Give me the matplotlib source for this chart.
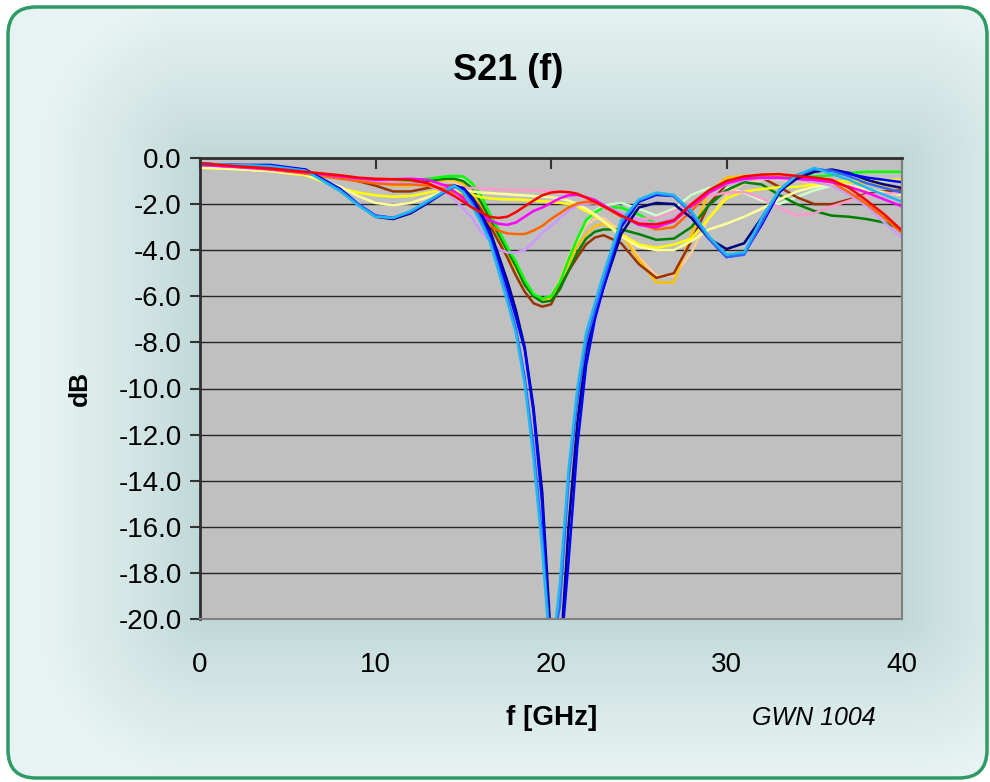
import numpy as np
import matplotlib
matplotlib.use("Agg")
import matplotlib.pyplot as plt
from matplotlib.patches import FancyBboxPatch

plt.rcParams["font.family"] = ["Liberation Sans", "DejaVu Sans"]

# frequency grid [GHz]
freq = [0, 2, 4, 6, 8, 9, 10, 11, 12, 13, 14,
        14.5, 15, 15.5, 16, 16.5, 17, 17.5, 18, 18.5, 19, 19.5, 20, 20.5, 21, 21.5, 22, 22.5, 23,
        24, 25, 26, 27, 28, 29, 30, 31, 32, 33, 34, 35, 36, 37, 38, 39, 40]

# S21 [dB] per sample
s_pale_green = [-0.28, -0.38, -0.48, -0.62, -0.82, -0.92, -0.98, -1.0, -1.0, -0.95, -0.9,
                -0.9, -0.95, -1.25, -1.8, -2.5, -3.2, -3.9, -4.6, -5.35, -5.95, -6.25, -6.25, -5.6, -4.6, -3.6, -2.8, -2.3, -2.05,
                -1.95, -2.2, -2.5, -2.2, -1.6, -1.3, -1.3, -1.5, -1.85, -2.0, -1.7, -1.4, -1.2, -1.1, -1.0, -1.0, -1.0]
s_peach = [-0.28, -0.38, -0.48, -0.65, -0.85, -0.95, -1.05, -1.1, -1.1, -1.05, -1.0,
           -1.05, -1.2, -1.5, -2.0, -2.7, -3.4, -4.1, -4.8, -5.4, -5.9, -6.1, -6.0, -5.3, -4.3, -3.5, -2.9, -2.65, -2.6,
           -3.2, -4.3, -5.1, -5.1, -4.1, -2.6, -1.6, -1.1, -0.95, -0.95, -1.0, -1.1, -1.2, -1.3, -1.4, -1.5, -1.5]
s_gold = [-0.3, -0.4, -0.5, -0.65, -0.85, -0.95, -1.05, -1.2, -1.2, -1.05, -0.95,
          -0.95, -1.1, -1.5, -2.0, -2.7, -3.4, -4.1, -4.8, -5.5, -6.0, -6.2, -6.05, -5.4, -4.6, -3.8, -3.3, -2.95, -2.85,
          -3.3, -4.4, -5.4, -5.4, -3.3, -1.5, -0.85, -0.78, -0.78, -0.8, -0.85, -0.95, -1.0, -1.05, -1.1, -1.2, -1.3]
s_brown = [-0.25, -0.35, -0.45, -0.6, -0.85, -1.0, -1.2, -1.45, -1.45, -1.3, -1.2,
           -1.2, -1.35, -1.7, -2.2, -2.9, -3.6, -4.3, -5.1, -5.8, -6.3, -6.45, -6.35, -5.6, -4.9, -4.3, -3.75, -3.45, -3.35,
           -3.7, -4.6, -5.2, -5.0, -3.6, -2.0, -1.15, -0.85, -0.85, -1.25, -1.7, -2.0, -2.0, -1.8, -1.55, -1.45, -1.4]
s_dark_green = [-0.25, -0.35, -0.45, -0.62, -0.85, -0.95, -1.0, -1.1, -1.1, -1.0, -0.9,
                -0.9, -1.0, -1.3, -1.9, -2.6, -3.3, -4.0, -4.7, -5.5, -6.0, -6.25, -6.2, -5.7, -4.9, -4.1, -3.5, -3.2, -3.1,
                -3.1, -3.3, -3.55, -3.5, -3.0, -2.05, -1.4, -1.05, -1.15, -1.6, -2.0, -2.3, -2.5, -2.55, -2.65, -2.8, -3.1]
s_lime = [-0.25, -0.35, -0.45, -0.6, -0.8, -0.9, -0.95, -1.0, -1.0, -0.9, -0.8,
          -0.78, -0.8, -1.1, -1.6, -2.4, -3.1, -3.85, -4.5, -5.3, -5.9, -6.1, -6.0, -5.4, -4.4, -3.5, -2.7, -2.35, -2.15,
          -2.15, -2.45, -2.85, -2.65, -2.05, -1.4, -1.0, -0.82, -0.8, -0.85, -0.8, -0.8, -0.75, -0.65, -0.6, -0.6, -0.6]
s_yellow = [-0.42, -0.48, -0.57, -0.75, -1.3, -1.5, -1.62, -1.68, -1.65, -1.5, -1.35,
            -1.4, -1.5, -1.6, -1.7, -1.75, -1.78, -1.8, -1.8, -1.82, -1.85, -1.88, -1.9, -1.95, -2.0, -2.1, -2.3, -2.5, -2.75,
            -3.3, -3.75, -3.9, -3.75, -3.5, -2.6, -1.75, -1.45, -1.35, -1.27, -1.25, -1.15, -1.05, -1.0, -0.95, -0.95, -0.95]
s_light_yellow = [-0.42, -0.48, -0.57, -0.72, -1.25, -1.65, -1.95, -2.05, -1.95, -1.7, -1.4,
                  -1.35, -1.4, -1.45, -1.5, -1.52, -1.55, -1.57, -1.6, -1.62, -1.65, -1.68, -1.7, -1.75, -1.85, -2.0, -2.2, -2.45, -2.75,
                  -3.4, -3.85, -4.0, -4.0, -3.6, -3.1, -2.85, -2.55, -2.2, -1.8, -1.45, -1.25, -1.15, -1.2, -1.35, -1.5, -1.6]
s_pink = [-0.23, -0.33, -0.45, -0.62, -0.8, -0.9, -1.0, -1.05, -1.1, -1.15, -1.25,
          -1.27, -1.3, -1.3, -1.32, -1.35, -1.37, -1.38, -1.39, -1.4, -1.41, -1.42, -1.43, -1.45, -1.5, -1.6, -1.75, -1.95, -2.15,
          -2.5, -2.65, -2.6, -2.3, -1.95, -1.65, -1.5, -1.47, -1.75, -2.15, -2.5, -2.4, -2.1, -1.85, -1.6, -1.55, -1.5]
s_lavender = [-0.3, -0.4, -0.5, -0.65, -0.85, -0.95, -1.05, -1.1, -1.1, -1.2, -1.5,
              -1.8, -2.2, -2.6, -3.2, -3.6, -3.95, -4.1, -4.1, -4.0, -3.65, -3.25, -2.95, -2.6, -2.3, -2.04, -2.0, -1.95, -2.05,
              -2.4, -2.7, -2.85, -2.6, -2.0, -1.5, -1.15, -0.95, -0.9, -0.9, -0.95, -1.05, -1.2, -1.6, -2.1, -2.8, -3.45]
s_orange = [-0.3, -0.38, -0.5, -0.68, -0.9, -1.0, -1.1, -1.15, -1.15, -1.2, -1.35,
            -1.5, -1.65, -1.95, -2.5, -2.9, -3.15, -3.27, -3.3, -3.3, -3.15, -2.95, -2.65, -2.4, -2.15, -1.97, -1.9, -1.92, -2.1,
            -2.55, -2.85, -3.1, -3.0, -2.3, -1.5, -1.1, -0.9, -0.85, -0.85, -0.9, -0.95, -1.05, -1.5, -2.0, -2.6, -3.25]
s_magenta = [-0.3, -0.38, -0.48, -0.62, -0.8, -0.88, -0.95, -0.92, -0.9, -0.95, -1.2,
             -1.45, -1.75, -2.1, -2.45, -2.7, -2.85, -2.9, -2.8, -2.55, -2.3, -2.15, -1.95, -1.75, -1.62, -1.6, -1.7, -1.82, -2.05,
             -2.5, -2.9, -3.0, -2.75, -2.1, -1.5, -1.1, -0.9, -0.85, -0.85, -0.9, -0.95, -1.05, -1.25, -1.5, -1.8, -2.1]
s_navy = [-0.25, -0.3, -0.38, -0.5, -1.35, -2.0, -2.55, -2.65, -2.4, -1.95, -1.45,
          -1.2, -1.3, -1.7, -2.4, -3.1, -4.2, -5.3, -6.6, -8.2, -10.8, -14.5, -21.0, -22.0, -16.0, -11.5, -8.4, -6.8, -5.6,
          -3.3, -2.15, -1.95, -2.0, -2.6, -3.5, -3.95, -3.7, -2.6, -1.45, -0.9, -0.6, -0.5, -0.65, -0.95, -1.15, -1.3]
s_blue = [-0.25, -0.3, -0.3, -0.5, -1.35, -2.0, -2.5, -2.6, -2.35, -1.9, -1.45,
          -1.2, -1.35, -1.8, -2.5, -3.3, -4.4, -5.6, -6.9, -8.3, -11.0, -15.0, -22.0, -22.0, -17.5, -12.5, -9.0, -7.0, -5.6,
          -3.0, -1.9, -1.6, -1.65, -2.35, -3.5, -4.3, -4.15, -2.9, -1.5, -0.75, -0.5, -0.55, -0.7, -0.85, -0.95, -1.05]
s_cornflower = [-0.25, -0.3, -0.37, -0.55, -1.4, -2.0, -2.5, -2.6, -2.35, -1.9, -1.45,
                -1.25, -1.45, -1.95, -2.65, -3.5, -4.7, -6.0, -7.4, -9.5, -12.5, -16.5, -21.5, -19.5, -14.0, -10.5, -8.0, -6.6, -5.3,
                -2.8, -1.85, -1.55, -1.65, -2.4, -3.5, -4.3, -4.2, -2.8, -1.4, -0.75, -0.5, -0.55, -0.8, -1.1, -1.3, -1.5]
s_sky = [-0.25, -0.3, -0.35, -0.55, -1.45, -2.05, -2.55, -2.6, -2.3, -1.85, -1.4,
         -1.2, -1.5, -2.1, -2.8, -3.6, -4.9, -6.2, -7.6, -9.8, -13.0, -17.0, -22.0, -18.5, -13.5, -10.0, -7.6, -6.3, -5.0,
         -2.7, -1.8, -1.5, -1.6, -2.3, -3.4, -4.2, -4.1, -2.6, -1.4, -0.75, -0.43, -0.7, -0.95, -1.3, -1.6, -1.9]
s_red = [-0.23, -0.35, -0.45, -0.6, -0.75, -0.85, -0.9, -0.92, -0.95, -1.1, -1.45,
         -1.65, -1.9, -2.15, -2.35, -2.55, -2.6, -2.55, -2.35, -2.1, -1.85, -1.62, -1.5, -1.46, -1.48, -1.55, -1.72, -1.9, -2.1,
         -2.5, -2.85, -2.88, -2.7, -2.0, -1.4, -1.0, -0.8, -0.72, -0.7, -0.78, -0.85, -0.95, -1.3, -1.85, -2.45, -3.15]

series = [
    (s_pale_green, "#CCFFCC"), (s_peach, "#FFCC99"), (s_gold, "#FFC000"),
    (s_brown, "#993300"), (s_dark_green, "#008000"), (s_lime, "#00FF00"),
    (s_yellow, "#FFFF00"), (s_light_yellow, "#FFFF99"), (s_pink, "#FF99CC"),
    (s_lavender, "#CC99FF"), (s_orange, "#FF6600"), (s_magenta, "#FF00FF"),
    (s_navy, "#000080"), (s_blue, "#0000FF"), (s_cornflower, "#3366FF"),
    (s_sky, "#1FB8F0"), (s_red, "#FF0000"),
]

x_ticks = [0, 10, 20, 30, 40]
y_ticks = [0, -2, -4, -6, -8, -10, -12, -14, -16, -18, -20]
y_labels = ["0.0", "-2.0", "-4.0", "-6.0", "-8.0", "-10.0", "-12.0", "-14.0", "-16.0", "-18.0", "-20.0"]

W, H = 990, 782
L, R, T, B = 200, 902, 158, 619

fig = plt.figure(figsize=(W / 100, H / 100), dpi=100)
fig.patch.set_facecolor("white")

# rounded background panel with a soft halo around the plot area
bg = fig.add_axes([0, 0, 1, 1])
bg.set_xlim(0, W)
bg.set_ylim(H, 0)
bg.axis("off")
yy, xx = np.mgrid[0:H, 0:W] + 0.5
dx = np.maximum(np.maximum(L - xx, xx - R), 0)
dy = np.maximum(np.maximum(T - yy, yy - B), 0)
t = np.clip(np.hypot(dx, dy) / 160, 0, 1) ** 0.8
dark = np.array([0.75, 0.845, 0.845])
light = np.array([0.905, 0.955, 0.95])
img = dark + (light - dark) * t[..., None]
im = bg.imshow(img, extent=[0, W, H, 0], interpolation="bilinear")
panel = FancyBboxPatch((8, 7), 979, 771, boxstyle="round,pad=0,rounding_size=28",
                       fc="none", ec="#2E9A66", lw=2.5)
bg.add_patch(panel)
im.set_clip_path(panel)

ax = fig.add_axes([L / W, 1 - B / H, (R - L) / W, (B - T) / H])
ax.set_facecolor("#C0C0C0")
for vals, col in series:
    ax.plot(freq, vals, color=col, lw=1.8)

ax.set_xlim(0, 40)
ax.set_ylim(-20, 0)
ax.set_xticks(x_ticks)
ax.set_xticklabels([str(v) for v in x_ticks])
ax.set_yticks(y_ticks)
ax.set_yticklabels(y_labels)
ax.grid(axis="y", color="#262626", lw=1.0)
ax.set_axisbelow(True)

ax.tick_params(axis="x", bottom=False, top=True, direction="in", length=8, width=1.5,
               color="#333333", labelbottom=True, labeltop=False, pad=24, labelsize=20)
ax.tick_params(axis="y", direction="out", length=7, width=1.5, color="#333333",
               pad=6, labelsize=20)
for side in ("top", "left"):
    ax.spines[side].set_color("#303030")
    ax.spines[side].set_linewidth(2.0)
for side in ("right", "bottom"):
    ax.spines[side].set_color("#808080")
    ax.spines[side].set_linewidth(1.5)

fig.text(508 / W, 1 - 71 / H, "S21 (f)", ha="center", va="center", fontsize=26, fontweight="bold")
fig.text(80 / W, 1 - 388 / H, "dB", ha="center", va="center", rotation=90, fontsize=19, fontweight="bold")
fig.text(552 / W, 1 - 718 / H, "f [GHz]", ha="center", va="center", fontsize=20, fontweight="bold")
fig.text(814 / W, 1 - 718 / H, "GWN 1004", ha="center", va="center", fontsize=18, style="italic")

fig.savefig("out.png", dpi=100)
